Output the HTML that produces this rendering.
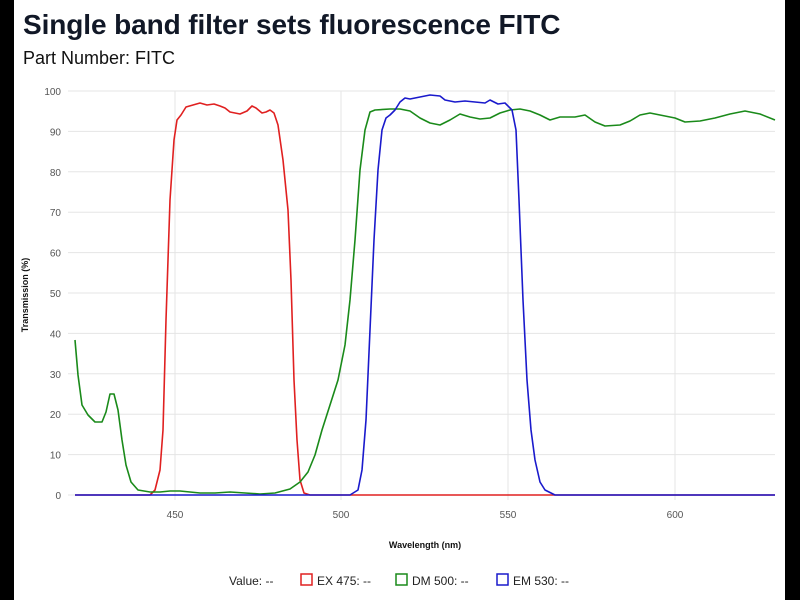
<!DOCTYPE html>
<html><head><style>
body{margin:0;width:800px;height:600px;background:#fff;overflow:hidden;position:relative;font-family:"Liberation Sans",sans-serif}
.bar{position:absolute;top:0;width:15px;height:600px;background:#000}
</style></head><body>
<div class="bar" style="left:0;width:14px"></div>
<div class="bar" style="right:0"></div>
<div style="position:absolute;left:23px;top:9px;font-size:28px;font-weight:bold;color:#111827;letter-spacing:-0.1px">Single band filter sets fluorescence FITC</div>
<div style="position:absolute;left:23px;top:48px;font-size:18px;color:#111">Part Number: FITC</div>
<svg width="800" height="600" style="position:absolute;left:0;top:0" font-family="Liberation Sans, sans-serif">
<g stroke="#e5e5e5" stroke-width="1">
<line x1="68" x2="775" y1="495" y2="495"/><line x1="68" x2="775" y1="454.6" y2="454.6"/><line x1="68" x2="775" y1="414.2" y2="414.2"/><line x1="68" x2="775" y1="373.8" y2="373.8"/><line x1="68" x2="775" y1="333.4" y2="333.4"/><line x1="68" x2="775" y1="293" y2="293"/><line x1="68" x2="775" y1="252.6" y2="252.6"/><line x1="68" x2="775" y1="212.2" y2="212.2"/><line x1="68" x2="775" y1="171.8" y2="171.8"/><line x1="68" x2="775" y1="131.4" y2="131.4"/><line x1="68" x2="775" y1="91" y2="91"/>
<line x1="175" x2="175" y1="91" y2="500"/><line x1="341" x2="341" y1="91" y2="500"/><line x1="508" x2="508" y1="91" y2="500"/><line x1="675" x2="675" y1="91" y2="500"/>
</g>
<g font-size="10" fill="#555" text-anchor="end">
<text x="61" y="499">0</text><text x="61" y="458.6">10</text><text x="61" y="418.2">20</text><text x="61" y="377.8">30</text><text x="61" y="337.4">40</text><text x="61" y="297">50</text><text x="61" y="256.6">60</text><text x="61" y="216.2">70</text><text x="61" y="175.8">80</text><text x="61" y="135.4">90</text><text x="61" y="95">100</text>
</g>
<g font-size="10" fill="#555" text-anchor="middle">
<text x="175" y="518">450</text><text x="341" y="518">500</text><text x="508" y="518">550</text><text x="675" y="518">600</text>
</g>
<text x="425" y="548" font-size="9" font-weight="bold" text-anchor="middle" fill="#111">Wavelength (nm)</text>
<text transform="translate(28,295) rotate(-90)" font-size="9" font-weight="bold" text-anchor="middle" fill="#111">Transmission (%)</text>
<g fill="none" stroke-width="1.6" stroke-linejoin="round">
<polyline stroke="#e02020" points="75,495 150,495 155,490 160,470 163,430 166,320 170,200 174,140 177,120 181,115 186,107 193,105 200,103 207,105 214,104 220,106 225,108 230,112 240,114 247,111 252,106 256,108 262,113 266,112 270,110 274,113 278,125 283,160 288,210 291,280 294,380 297,440 300,480 304,493 310,495 775,495"/>
<polyline stroke="#1a8a1a" points="75,340 78,375 82,405 88,415 95,422 102,422 106,412 110,394 114,394 118,410 122,440 126,465 131,482 138,490 150,492 160,492 170,491 180,491 190,492 200,493 215,493 230,492 245,493 260,494 275,493 290,489 300,482 308,472 315,455 322,430 330,405 338,380 345,345 350,300 355,240 360,170 365,130 370,112 375,110 390,109 400,109 410,111 420,118 430,123 440,125 450,120 460,114 470,117 480,119 490,118 500,113 510,110 520,109 530,111 540,115 550,120 560,117 575,117 585,115 595,122 605,126 620,125 630,121 640,115 650,113 660,115 675,118 685,122 700,121 715,118 730,114 745,111 760,114 775,120"/>
<polyline stroke="#1a1acc" points="75,495 350,495 358,490 362,470 366,420 370,330 374,240 378,170 382,130 386,118 390,115 395,110 400,102 405,98 410,99 420,97 430,95 440,96 445,100 455,102 465,101 475,102 485,103 490,100 498,104 505,103 512,110 516,130 519,200 523,300 527,380 531,430 535,460 540,482 545,490 555,495 775,495"/>
</g>
<g font-size="12" fill="#222">
<text x="229" y="585">Value:  --</text>
<rect x="301" y="574" width="11" height="11" fill="none" stroke="#e02020" stroke-width="1.5"/>
<text x="317" y="585">EX 475:  --</text>
<rect x="396" y="574" width="11" height="11" fill="none" stroke="#1a8a1a" stroke-width="1.5"/>
<text x="412" y="585">DM 500:  --</text>
<rect x="497" y="574" width="11" height="11" fill="none" stroke="#1a1acc" stroke-width="1.5"/>
<text x="513" y="585">EM 530:  --</text>
</g>
</svg>
</body></html>
